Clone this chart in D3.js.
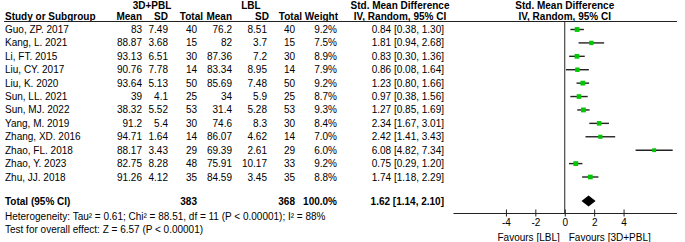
<!DOCTYPE html>
<html>
<head>
<meta charset="utf-8">
<script src="https://cdn.jsdelivr.net/npm/d3@7"></script>
<style>
  body { margin: 0; background: #fff; }
  svg text { font-family: "Liberation Sans", Arial, sans-serif; font-size: 10px; fill: #000; }
  .hdr { font-weight: bold; }
</style>
</head>
<body>
<svg id="chart" width="685" height="242"></svg>
<script>
// study rows
const studies = ["Guo, ZP. 2017", "Kang, L. 2021", "Li, FT. 2015", "Liu, CY. 2017", "Liu, K. 2020",
  "Sun, LL. 2021", "Sun, MJ. 2022", "Yang, M. 2019", "Zhang, XD. 2016", "Zhao, FL. 2018",
  "Zhao, Y. 2023", "Zhu, JJ. 2018"];
const expMean = [83, 88.87, 93.13, 90.76, 93.64, 39, 38.32, 91.2, 94.71, 88.17, 82.75, 91.26];
const expSD = [7.49, 3.68, 6.51, 7.78, 5.13, 4.1, 5.52, 5.4, 1.64, 3.43, 8.28, 4.12];
const expN = [40, 15, 30, 14, 50, 25, 53, 30, 14, 29, 48, 35];
const ctlMean = [76.2, 82, 87.36, 83.34, 85.69, 34, 31.4, 74.6, 86.07, 69.39, 75.91, 84.59];
const ctlSD = [8.51, 3.7, 7.2, 8.95, 7.48, 5.9, 5.28, 8.3, 4.62, 2.61, 10.17, 3.45];
const ctlN = [40, 15, 30, 14, 50, 25, 53, 30, 14, 29, 33, 35];
const weights = [9.2, 7.5, 8.9, 7.9, 9.2, 8.7, 9.3, 8.4, 7.0, 6.0, 9.2, 8.8];
const smd = [0.84, 1.81, 0.83, 0.86, 1.23, 0.97, 1.27, 2.34, 2.42, 6.08, 0.75, 1.74];
const ciLow = [0.38, 0.94, 0.30, 0.08, 0.80, 0.38, 0.85, 1.67, 1.41, 4.82, 0.29, 1.18];
const ciHigh = [1.30, 2.68, 1.36, 1.64, 1.66, 1.56, 1.69, 3.01, 3.43, 7.34, 1.20, 2.29];

// pooled result
const totalExpN = 383, totalCtlN = 368, totalWeight = 100.0;
const pooled = { est: 1.62, lo: 1.14, hi: 2.10 };
const heterogeneityText = "Heterogeneity: Tau\u00b2 = 0.61; Chi\u00b2 = 88.51, df = 11 (P < 0.00001); I\u00b2 = 88%";
const overallText = "Test for overall effect: Z = 6.57 (P < 0.00001)";
const tickValues = [-4, -2, 0, 2, 4];

const svg = d3.select("#chart");

const rows = studies.map((s, i) => ({
  name: s, m1: expMean[i], sd1: expSD[i], n1: expN[i],
  m2: ctlMean[i], sd2: ctlSD[i], n2: ctlN[i],
  w: weights[i], est: smd[i], lo: ciLow[i], hi: ciHigh[i]
}));

const y = d3.scalePoint().domain(studies).range([29.5, 177]);
const x = d3.scaleLinear().domain([-7.6, 7.6]).range([453, 676.5]);
const boxSize = d3.scaleSqrt().domain([0, 10]).range([0, 5]);

const yTotal = 201, yHet = 216, yTest = 229, yAxis = 213;

// column right edges in the table
const cols = [
  { key: "m1", x: 142, fmt: String },
  { key: "sd1", x: 168, fmt: String },
  { key: "n1", x: 197, fmt: String },
  { key: "m2", x: 232, fmt: String },
  { key: "sd2", x: 267, fmt: String },
  { key: "n2", x: 295, fmt: String },
  { key: "w", x: 337, fmt: d => d.toFixed(1) + "%" }
];

// headers
const hdr = svg.append("g").attr("class", "hdr-group");
hdr.append("text").attr("class", "hdr").attr("x", 152).attr("y", 5.5).attr("dy", "0.35em")
  .attr("text-anchor", "middle").text("3D+PBL");
hdr.append("text").attr("class", "hdr").attr("x", 251).attr("y", 5.5).attr("dy", "0.35em")
  .attr("text-anchor", "middle").text("LBL");
hdr.append("text").attr("class", "hdr").attr("x", 400).attr("y", 5.5).attr("dy", "0.35em")
  .attr("text-anchor", "middle").text("Std. Mean Difference");
hdr.append("text").attr("class", "hdr").attr("x", x(0)).attr("y", 5.5).attr("dy", "0.35em")
  .attr("text-anchor", "middle").text("Std. Mean Difference");

const subHeads = [
  { t: "Study or Subgroup", x: 5, a: "start" },
  { t: "Mean", x: 142, a: "end" },
  { t: "SD", x: 168, a: "end" },
  { t: "Total", x: 203, a: "end" },
  { t: "Mean", x: 232, a: "end" },
  { t: "SD", x: 269, a: "end" },
  { t: "Total", x: 302, a: "end" },
  { t: "Weight", x: 338, a: "end" },
  { t: "IV, Random, 95% CI", x: 400, a: "middle" },
  { t: "IV, Random, 95% CI", x: x(0), a: "middle" }
];
hdr.selectAll("text.sub")
  .data(subHeads)
  .join("text")
  .attr("class", "hdr sub")
  .attr("x", d => d.x)
  .attr("y", 16.5)
  .attr("dy", "0.35em")
  .attr("text-anchor", d => d.a)
  .text(d => d.t);

svg.append("line")
  .attr("x1", 4).attr("x2", 677)
  .attr("y1", 21.5).attr("y2", 21.5)
  .attr("stroke", "#222").attr("stroke-width", 1);

// study rows
const rowG = svg.selectAll("g.row")
  .data(rows)
  .join("g")
  .attr("class", "row")
  .attr("transform", d => `translate(0,${y(d.name)})`);

rowG.append("text").attr("x", 5).attr("dy", "0.35em").text(d => d.name);

cols.forEach(c => {
  rowG.append("text")
    .attr("x", c.x)
    .attr("dy", "0.35em")
    .attr("text-anchor", "end")
    .text(d => c.fmt(d[c.key]));
});

rowG.append("text")
  .attr("x", 444)
  .attr("dy", "0.35em")
  .attr("text-anchor", "end")
  .text(d => `${d.est.toFixed(2)} [${d.lo.toFixed(2)}, ${d.hi.toFixed(2)}]`);

// CI lines and boxes
rowG.append("line")
  .attr("x1", d => x(d.lo))
  .attr("x2", d => x(d.hi))
  .attr("stroke", "#222")
  .attr("stroke-width", 1.4);

rowG.append("rect")
  .attr("x", d => x(d.est) - boxSize(d.w) / 2)
  .attr("y", d => -boxSize(d.w) / 2)
  .attr("width", d => boxSize(d.w))
  .attr("height", d => boxSize(d.w))
  .attr("fill", "#00c800");

// total row
const tot = svg.append("g").attr("transform", `translate(0,${yTotal})`);
tot.append("text").attr("class", "hdr").attr("x", 5).attr("dy", "0.35em").text("Total (95% CI)");
tot.append("text").attr("class", "hdr").attr("x", 197).attr("dy", "0.35em").attr("text-anchor", "end").text(totalExpN);
tot.append("text").attr("class", "hdr").attr("x", 295).attr("dy", "0.35em").attr("text-anchor", "end").text(totalCtlN);
tot.append("text").attr("class", "hdr").attr("x", 337).attr("dy", "0.35em").attr("text-anchor", "end").text(totalWeight.toFixed(1) + "%");
tot.append("text").attr("class", "hdr").attr("x", 444).attr("dy", "0.35em").attr("text-anchor", "end")
  .text(`${pooled.est.toFixed(2)} [${pooled.lo.toFixed(2)}, ${pooled.hi.toFixed(2)}]`);

tot.append("path")
  .attr("d", `M${x(pooled.lo)},0 L${x(pooled.est)},-5.5 L${x(pooled.hi)},0 L${x(pooled.est)},5.5 Z`)
  .attr("fill", "#000");

svg.append("text").attr("x", 5).attr("y", yHet).attr("dy", "0.35em").text(heterogeneityText);
svg.append("text").attr("x", 5).attr("y", yTest).attr("dy", "0.35em").text(overallText);

// zero line
svg.append("line")
  .attr("x1", x(0)).attr("x2", x(0))
  .attr("y1", 21.5).attr("y2", yAxis)
  .attr("stroke", "#222").attr("stroke-width", 1);

// axis
const axis = d3.axisBottom(x)
  .tickValues(tickValues)
  .tickSizeInner(7)
  .tickSizeOuter(0)
  .tickFormat(d => String(d));

const axG = svg.append("g")
  .attr("transform", `translate(0,${yAxis})`)
  .call(axis);
axG.select(".domain").attr("stroke", "#222");
axG.selectAll(".tick line").attr("y1", -3.5).attr("y2", 3.5).attr("stroke", "#222");
axG.selectAll(".tick text")
  .attr("y", 5.5)
  .style("font-family", "'Liberation Sans', Arial, sans-serif")
  .style("font-size", "10px")
  .attr("fill", "#000");

svg.append("text").attr("x", x(0) - 5).attr("y", 237).attr("dy", "0.35em")
  .attr("text-anchor", "end").text("Favours [LBL]");
svg.append("text").attr("x", x(0) + 4).attr("y", 237).attr("dy", "0.35em")
  .attr("text-anchor", "start").text("Favours [3D+PBL]");
</script>
</body>
</html>
